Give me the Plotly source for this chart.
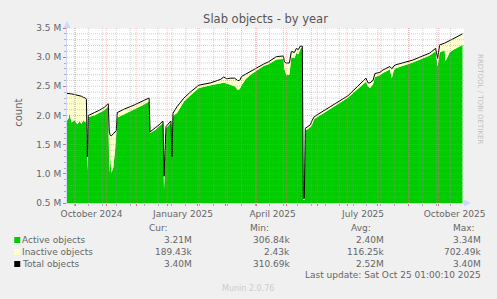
import plotly.graph_objects as go
import pandas as pd

# ---------------- data (values in millions) ----------------
dates = [
    "2024-09-22", "2024-09-24", "2024-09-25", "2024-09-27", "2024-09-30",
    "2024-10-03", "2024-10-05", "2024-10-07", "2024-10-09", "2024-10-11",
    "2024-10-12", "2024-10-13", "2024-10-14", "2024-10-15", "2024-10-20",
    "2024-10-25", "2024-10-30", "2024-11-02", "2024-11-03", "2024-11-04",
    "2024-11-05", "2024-11-06", "2024-11-08", "2024-11-10", "2024-11-11",
    "2024-11-12", "2024-11-19", "2024-11-29", "2024-12-09", "2024-12-14",
    "2024-12-15", "2024-12-20", "2024-12-24", "2024-12-27", "2024-12-28",
    "2024-12-29", "2024-12-30", "2024-12-31", "2025-01-04", "2025-01-05",
    "2025-01-06", "2025-01-07", "2025-01-11", "2025-01-18", "2025-01-25",
    "2025-02-02", "2025-02-14", "2025-02-24", "2025-02-27", "2025-03-02",
    "2025-03-06", "2025-03-10", "2025-03-13", "2025-03-15", "2025-03-17",
    "2025-03-21", "2025-03-26", "2025-04-01", "2025-04-08", "2025-04-13",
    "2025-04-21", "2025-04-28", "2025-04-29", "2025-05-01", "2025-05-04",
    "2025-05-06", "2025-05-09", "2025-05-11", "2025-05-13", "2025-05-15",
    "2025-05-17", "2025-05-18", "2025-05-19", "2025-05-20", "2025-05-25",
    "2025-05-27", "2025-05-29", "2025-06-14", "2025-07-02", "2025-07-20",
    "2025-07-22", "2025-07-24", "2025-07-27", "2025-07-29", "2025-08-03",
    "2025-08-06", "2025-08-13", "2025-08-15", "2025-08-17", "2025-08-19",
    "2025-09-05", "2025-09-22", "2025-09-28", "2025-09-30", "2025-10-02",
    "2025-10-07", "2025-10-08", "2025-10-12", "2025-10-15", "2025-10-25",
]
total_objects = [
    2.38, 2.38, 2.38, 2.37, 2.36,
    2.35, 2.34, 2.33, 2.31, 2.30,
    2.28, 1.29, 2.00, 2.01, 2.05,
    2.09, 2.14, 2.19, 2.20, 1.72,
    1.66, 1.65, 1.68, 1.72, 1.74,
    2.05, 2.11, 2.18, 2.26, 2.30,
    1.72, 1.78, 1.84, 1.89, 1.90,
    0.96, 1.40, 1.81, 1.89, 1.90,
    1.29, 2.04, 2.15, 2.30, 2.41,
    2.52, 2.56, 2.62, 2.66, 2.63,
    2.64, 2.64, 2.60, 2.60, 2.67,
    2.71, 2.75, 2.81, 2.88, 2.92,
    3.01, 3.02, 2.92, 2.90, 2.90,
    3.10, 3.08, 3.15, 3.13, 3.19,
    3.19, 0.58, 0.58, 1.78, 1.84,
    1.92, 1.98, 2.15, 2.34, 2.64,
    2.56, 2.56, 2.60, 2.72, 2.74,
    2.78, 2.84, 2.80, 2.85, 2.87,
    2.95, 3.07, 3.15, 2.98, 3.21,
    3.24, 3.25, 3.28, 3.31, 3.40,
]
active_objects = [
    1.90, 1.95, 2.04, 1.88, 1.92,
    1.85, 1.90, 1.86, 1.92, 1.88,
    1.90, 1.04, 1.96, 1.98, 2.00,
    2.04, 2.09, 2.14, 2.15, 1.01,
    1.30, 1.02, 1.10, 1.45, 1.70,
    1.96, 2.02, 2.10, 2.19, 2.24,
    1.70, 1.75, 1.81, 1.86, 1.87,
    0.72, 1.20, 1.78, 1.86, 1.87,
    1.29, 2.00, 2.04, 2.24, 2.35,
    2.47, 2.52, 2.55, 2.56, 2.55,
    2.53, 2.50, 2.44, 2.45, 2.52,
    2.62, 2.70, 2.77, 2.85, 2.88,
    2.96, 2.97, 2.80, 2.69, 2.70,
    3.00, 2.98, 3.07, 3.05, 3.13,
    3.18, 0.55, 0.55, 1.74, 1.80,
    1.85, 1.94, 2.11, 2.31, 2.58,
    2.50, 2.47, 2.53, 2.66, 2.69,
    2.73, 2.79, 2.64, 2.78, 2.81,
    2.91, 3.03, 3.10, 2.84, 3.08,
    3.12, 2.93, 3.08, 3.12, 3.21,
]

legend_names = ["Active objects", "Inactive objects", "Total objects"]
legend_colors = ["#00CC00", "#FFFFCC", "#000000"]
cur_vals = ["3.21M", "189.43k", "3.40M"]
min_vals = ["306.84k", "2.43k", "310.69k"]
avg_vals = ["2.40M", "116.25k", "2.52M"]
max_vals = ["3.34M", "702.49k", "3.40M"]

y_ticks = [0.5, 1.0, 1.5, 2.0, 2.5, 3.0, 3.5]
y_tick_labels = ["0.5 M", "1.0 M", "1.5 M", "2.0 M", "2.5 M", "3.0 M", "3.5 M"]
x_label_dates = ["2024-10-01", "2025-01-01", "2025-04-01", "2025-07-01", "2025-10-01"]
x_labels = ["October 2024", "January 2025", "April 2025", "July 2025", "October 2025"]

title_text = "Slab objects - by year"
last_update = "Last update: Sat Oct 25 01:00:10 2025"

# ---------------- layout geometry ----------------
W, H = 497, 299
L, R, T, B = 67, 466, 28, 203
FONT = "DejaVu Sans"
FC = "#666666"
MAJOR = "rgba(235,120,120,0.45)"
MINOR = "rgba(150,150,150,0.45)"


def px(x):
    return (x - L) / (R - L)


def py(y):
    return (B - y) / (B - T)


fig = go.Figure()
fig.add_trace(go.Scatter(x=dates, y=active_objects, mode="lines", fill="tozeroy",
                         fillcolor="#00CC00", line=dict(width=0), showlegend=False,
                         hoverinfo="skip"))
fig.add_trace(go.Scatter(x=dates, y=total_objects, mode="lines", fill="tonexty",
                         fillcolor="#FFFFCC", line=dict(color="#000000", width=1),
                         showlegend=False, hoverinfo="skip"))

month_starts = pd.date_range("2024-10-01", "2025-10-01", freq="MS")
month_tick_text = []
for d in month_starts:
    s = d.strftime("%Y-%m-%d")
    month_tick_text.append(x_labels[x_label_dates.index(s)] if s in x_label_dates else "")

x_range = ["2024-09-22 12:00", "2025-10-26 12:00"]
shapes = []
# minor vertical grid (every two weeks)
for d in pd.date_range("2024-09-30", "2025-10-26", freq="14D"):
    shapes.append(dict(type="line", xref="x", yref="y domain", x0=d, x1=d, y0=0, y1=1,
                       line=dict(color=MINOR, width=1, dash="1px,1px"), layer="above"))
# minor horizontal grid
for i in range(5, 36):
    v = i / 10
    if abs(v * 2 - round(v * 2)) < 1e-9:
        continue
    shapes.append(dict(type="line", xref="x domain", yref="y", x0=0, x1=1, y0=v, y1=v,
                       line=dict(color=MINOR, width=1, dash="1px,1px"), layer="above"))
# major grid
for d in month_starts:
    shapes.append(dict(type="line", xref="x", yref="y domain", x0=d, x1=d, y0=0, y1=1,
                       line=dict(color=MAJOR, width=1, dash="1px,1px"), layer="above"))
for v in y_ticks[1:]:
    shapes.append(dict(type="line", xref="x domain", yref="y", x0=0, x1=1, y0=v, y1=v,
                       line=dict(color=MAJOR, width=1, dash="1px,1px"), layer="above"))

# axis arrows
shapes.append(dict(type="path", xref="paper", yref="paper",
                   path=f"M {px(63.5)} {py(28)} L {px(70.5)} {py(28)} L {px(67)} {py(21)} Z",
                   fillcolor="#CFD6F8", line=dict(width=0), layer="above"))
shapes.append(dict(type="path", xref="paper", yref="paper",
                   path=f"M {px(466)} {py(199.5)} L {px(466)} {py(206.5)} L {px(473)} {py(203)} Z",
                   fillcolor="#CFD6F8", line=dict(width=0), layer="above"))

annotations = []
annotations.append(dict(text="count", x=px(10), y=py(113), xref="paper", yref="paper",
                        textangle=-90, showarrow=False, font=dict(family=FONT, size=10, color=FC)))
annotations.append(dict(text="RRDTOOL / TOBI OETIKER", x=px(488), y=py(52), xref="paper",
                        yref="paper", textangle=90, showarrow=False,
                        font=dict(family=FONT, size=7, color="#C0C0C0")))

rows_y = [240, 252, 264]
for hdr, xl in zip(["Cur:", "Min:", "Avg:", "Max:"], [147, 249, 350, 453]):
    annotations.append(dict(text=hdr, x=px(xl), y=py(228), xref="paper", yref="paper",
                            xanchor="left", yanchor="middle", showarrow=False,
                            font=dict(family=FONT, size=9, color=FC)))
for i, name in enumerate(legend_names):
    yy = rows_y[i]
    shapes.append(dict(type="rect", xref="paper", yref="paper",
                       x0=px(14), x1=px(20), y0=py(yy + 3), y1=py(yy - 3),
                       fillcolor=legend_colors[i], line=dict(width=0)))
    annotations.append(dict(text=name, x=px(20), y=py(yy), xref="paper", yref="paper",
                            xanchor="left", yanchor="middle", showarrow=False,
                            font=dict(family=FONT, size=9, color=FC)))
    for vals, xr in zip([cur_vals, min_vals, avg_vals, max_vals], [195, 293, 388, 485]):
        annotations.append(dict(text=vals[i], x=px(xr), y=py(yy), xref="paper", yref="paper",
                                xanchor="right", yanchor="middle", showarrow=False,
                                font=dict(family=FONT, size=9, color=FC)))
annotations.append(dict(text=last_update, x=px(485), y=py(275), xref="paper", yref="paper",
                        xanchor="right", yanchor="middle", showarrow=False,
                        font=dict(family=FONT, size=9, color=FC)))
annotations.append(dict(text="Munin 2.0.76", x=px(249), y=py(288), xref="paper", yref="paper",
                        xanchor="center", yanchor="middle", showarrow=False,
                        font=dict(family=FONT, size=8, color="#CCCCCC")))

fig.update_layout(
    width=W, height=H,
    margin=dict(l=L, r=W - R, t=T, b=H - B, pad=0),
    paper_bgcolor="#F0F0F0", plot_bgcolor="#FFFFFF",
    title=dict(text=title_text, x=0.5, xref="paper", xanchor="center",
               y=1 - 19 / H, yref="container", yanchor="middle",
               font=dict(family=FONT, size=11.5, color="#555555")),
    xaxis=dict(type="date", range=x_range, tickmode="array",
               tickvals=list(month_starts), ticktext=month_tick_text,
               ticks="outside", ticklen=2, tickcolor="#E07070", tickwidth=1,
               ticklabelshift=16, showgrid=False, zeroline=False,
               showline=True, linecolor="#CFD6F8", linewidth=1,
               tickfont=dict(family=FONT, size=9, color=FC),
               minor=dict(tickmode="linear", tick0="2024-09-30", dtick=14 * 86400000,
                          ticks="outside", ticklen=2, tickcolor="#B0B0B0", showgrid=False),
               fixedrange=True),
    yaxis=dict(range=[0.5, 3.5], tickmode="array", tickvals=y_ticks, ticktext=y_tick_labels,
               ticks="outside", ticklen=3, tickcolor="#E07070", showgrid=False,
               zeroline=False, showline=True, linecolor="#CFD6F8", linewidth=1,
               tickfont=dict(family=FONT, size=9, color=FC),
               minor=dict(tickmode="linear", tick0=0.5, dtick=0.1, ticks="outside",
                          ticklen=2, tickcolor="#B0B0B0", showgrid=False),
               fixedrange=True),
    shapes=shapes,
    annotations=annotations,
)

fig.write_html("out.html")
